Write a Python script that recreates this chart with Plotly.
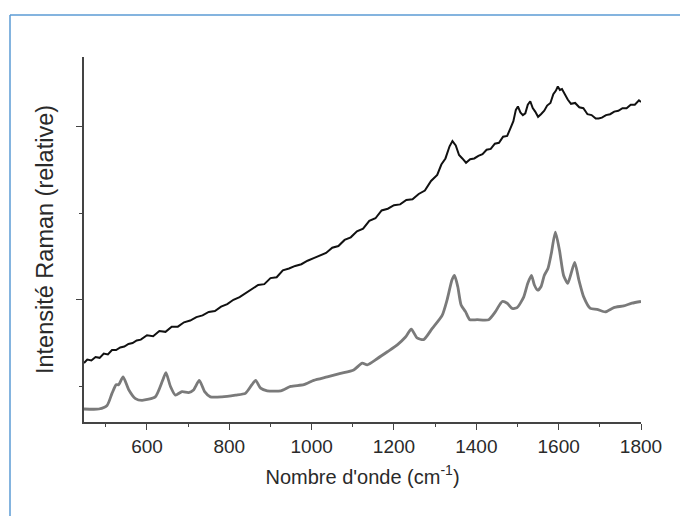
import plotly.graph_objects as go

# Black spectrum (upper)
black_x = [447, 455, 465, 475, 485, 495, 505, 515, 525, 535, 545, 555, 565, 575, 585,
           600, 615, 630, 645, 660, 675, 690, 705, 720, 735, 750, 765, 780, 795, 810,
           825, 840, 855, 870, 885, 900, 915, 930, 945, 960, 975, 990, 1005, 1020, 1035,
           1050, 1065, 1080, 1095, 1110, 1125, 1140, 1155, 1170, 1185, 1200, 1215, 1230,
           1245, 1260, 1275, 1290, 1305, 1315, 1325, 1335, 1342, 1350, 1358, 1366, 1375,
           1385, 1395, 1405, 1415, 1425, 1435, 1445, 1455, 1465, 1475, 1483, 1490, 1496,
           1501, 1507, 1513, 1519, 1525, 1531, 1537, 1543, 1550, 1557, 1565, 1572, 1580,
           1587, 1593, 1598, 1603, 1608, 1615, 1622, 1630, 1640, 1650, 1660, 1670, 1680,
           1690, 1697, 1705, 1715, 1725, 1735, 1745, 1755, 1765, 1775, 1785, 1795, 1800]
black_y = [1.27, 1.31, 1.30, 1.34, 1.33, 1.38, 1.37, 1.42, 1.42, 1.45, 1.46, 1.49, 1.50, 1.53, 1.54,
           1.59, 1.58, 1.64, 1.63, 1.69, 1.69, 1.74, 1.76, 1.80, 1.82, 1.86, 1.87, 1.92, 1.95, 2.00,
           2.03, 2.08, 2.12, 2.17, 2.18, 2.25, 2.26, 2.34, 2.36, 2.39, 2.41, 2.45, 2.48, 2.51, 2.54,
           2.60, 2.62, 2.69, 2.72, 2.79, 2.82, 2.91, 2.94, 3.03, 3.05, 3.09, 3.10, 3.15,
           3.16, 3.22, 3.26, 3.37, 3.44, 3.56, 3.63, 3.77, 3.83, 3.78, 3.67, 3.63, 3.58,
           3.62, 3.63, 3.66, 3.68, 3.73, 3.74, 3.80, 3.81, 3.88, 3.89, 3.98, 4.06, 4.19,
           4.23, 4.16, 4.13, 4.15, 4.25, 4.29, 4.21, 4.17, 4.11, 4.14, 4.18, 4.24, 4.27,
           4.37, 4.41, 4.46, 4.42, 4.43, 4.36, 4.31, 4.26, 4.27, 4.22, 4.21, 4.14, 4.13,
           4.09, 4.09, 4.10, 4.13, 4.14, 4.17, 4.18, 4.21, 4.21, 4.25, 4.25, 4.30, 4.28]

# Grey spectrum (lower)
grey_x = [447, 483, 503, 515, 525, 531, 542, 556, 572, 588, 620, 638, 646, 657, 669,
          685, 701, 713, 727, 740, 754, 782, 815, 839, 855, 864, 876, 892, 925, 949,
          981, 1005, 1038, 1070, 1102, 1123, 1135, 1159, 1184, 1208, 1228, 1242, 1256,
          1272, 1293, 1317, 1329, 1341, 1347, 1355, 1363, 1374, 1384, 1402, 1430, 1446,
          1463, 1475, 1487, 1499, 1515, 1525, 1534, 1541, 1549, 1557, 1565, 1574, 1582,
          1592, 1602, 1612, 1622, 1630, 1639, 1649, 1661, 1677, 1693, 1713, 1734, 1758,
          1778, 1800]
grey_y = [0.74, 0.74, 0.78, 0.92, 1.02, 1.02, 1.11, 0.96, 0.86, 0.84, 0.88, 1.07, 1.16, 1.00, 0.90,
          0.94, 0.93, 0.96, 1.07, 0.94, 0.88, 0.88, 0.90, 0.92, 1.02, 1.07, 0.98, 0.95, 0.95, 1.00,
          1.02, 1.07, 1.11, 1.15, 1.19, 1.27, 1.25, 1.32, 1.40, 1.48, 1.57, 1.66, 1.56,
          1.54, 1.67, 1.82, 2.00, 2.23, 2.28, 2.15, 1.94, 1.86, 1.77, 1.77, 1.77, 1.86,
          1.98, 1.96, 1.90, 1.91, 2.03, 2.19, 2.28, 2.17, 2.11, 2.15, 2.28, 2.36, 2.53,
          2.78, 2.57, 2.28, 2.19, 2.30, 2.43, 2.23, 2.03, 1.90, 1.89, 1.86, 1.91, 1.93,
          1.96, 1.98]

x_ticks = [600, 800, 1000, 1200, 1400, 1600, 1800]

FONT = "Liberation Sans, Arial, sans-serif"

fig = go.Figure()
fig.add_trace(go.Scatter(x=grey_x, y=grey_y, mode="lines",
                         line=dict(color="#7a7a7a", width=2.8, shape="spline", smoothing=0.6),
                         hoverinfo="skip"))
fig.add_trace(go.Scatter(x=black_x, y=black_y, mode="lines",
                         line=dict(color="#111111", width=2.0), hoverinfo="skip"))

L, R, T, B = 84, 39, 57, 94
W, H = 680, 516
pw, ph = W - L - R, H - T - B

def px(xp):
    return (xp - L) / pw

def py(yp):
    return (H - B - yp) / ph

fig.update_layout(
    width=W, height=H,
    margin=dict(l=L, r=R, t=T, b=B),
    paper_bgcolor="white", plot_bgcolor="white",
    showlegend=False,
    font=dict(family=FONT, color="#333333"),
    xaxis=dict(
        range=[447, 1800], tickvals=x_ticks, ticktext=[str(v) for v in x_ticks],
        ticks="outside", ticklen=6, tickwidth=1.3, tickcolor="#444444",
        minor=dict(dtick=100, tick0=0, ticks="outside", ticklen=3, tickwidth=1.3, tickcolor="#444444"),
        showline=True, linecolor="#444444", linewidth=1.5, showgrid=False, zeroline=False,
        tickfont=dict(size=19, color="#2a2a2a"),
        title=dict(text="Nombre d'onde (cm<sup>-1</sup>)", font=dict(size=20, color="#2a2a2a"), standoff=14),
    ),
    yaxis=dict(
        range=[0.59, 4.80], tickvals=[2, 4], showticklabels=False,
        ticks="outside", ticklen=6, tickwidth=1.3, tickcolor="#444444",
        minor=dict(tickvals=[1, 3], ticks="outside", ticklen=3, tickwidth=1.3, tickcolor="#444444"),
        showline=True, linecolor="#444444", linewidth=1.5, showgrid=False, zeroline=False,
        title=dict(text="Intensité Raman (relative)", font=dict(size=23.5, color="#2a2a2a"), standoff=16),
    ),
    shapes=[
        dict(type="line", xref="paper", yref="paper", x0=px(10), x1=px(10), y0=py(15), y1=py(520),
             line=dict(color="#5b9bd5", width=1.5)),
        dict(type="line", xref="paper", yref="paper", x0=px(10), x1=px(680), y0=py(15), y1=py(15),
             line=dict(color="#5b9bd5", width=1.5)),
    ],
)

fig.write_html("out.html")
